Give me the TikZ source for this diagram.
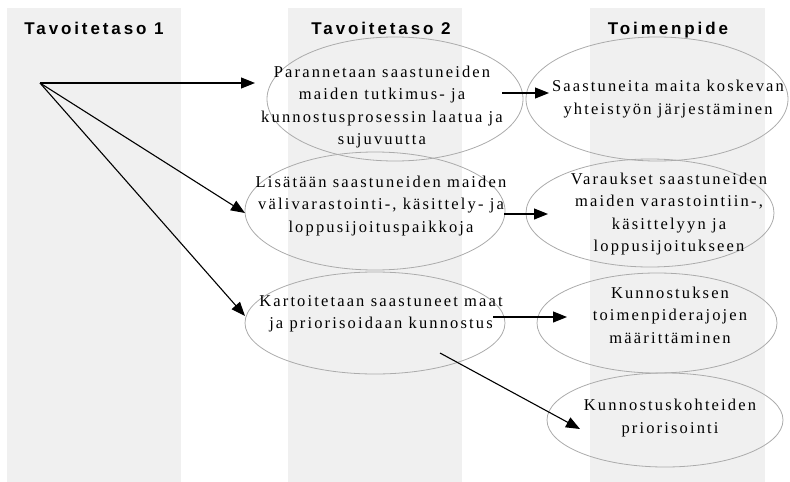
\documentclass[tikz,border=0pt]{standalone}
\usepackage{fontspec}
\setmainfont{Liberation Serif}[LetterSpace=13]
\newfontfamily\headfont{Liberation Sans}[LetterSpace=17]
\usetikzlibrary{arrows.meta,shapes.geometric}
\definecolor{bandgray}{HTML}{F0F0F0}
\definecolor{rimgray}{HTML}{ABABAB}
\begin{document}
\begin{tikzpicture}[x=1pt,y=-1pt,
  band/.style={fill=bandgray,draw=none},
  head/.style={font=\headfont\bfseries\fontsize{17}{20}\selectfont,anchor=base,inner sep=0pt},
  goal/.style={ellipse,draw=rimgray,line width=0.8pt,inner sep=0pt},
  txt/.style={align=center,inner sep=0pt,font=\fontsize{16.5}{22.5}\selectfont},
  arr/.style={-{Triangle[length=14pt,width=11pt]},line width=1.1pt}]
\useasboundingbox (0,0) rectangle (790,482);
% column backgrounds
\fill[band] (7,8) rectangle (181,482);
\fill[band] (288,8) rectangle (462,482);
\fill[band] (590,8) rectangle (765,482);
% column headings
\node[head] (h1) at (94,34) {Tavoitetaso 1};
\node[head] (h2) at (381,34) {Tavoitetaso 2};
\node[head] (h3) at (668,34) {Toimenpide};
% outlines
\node[goal,minimum width=256pt,minimum height=124pt] (e1) at (395,99) {};
\node[goal,minimum width=260pt,minimum height=118pt] (e2) at (375,211) {};
\node[goal,minimum width=260pt,minimum height=102pt] (e3) at (375,323) {};
\node[goal,minimum width=262pt,minimum height=124pt] (e4) at (657,99) {};
\node[goal,minimum width=248pt,minimum height=108pt] (e5) at (650,213) {};
\node[goal,minimum width=240pt,minimum height=100pt] (e6) at (657,323) {};
\node[goal,minimum width=236pt,minimum height=94pt] (e7) at (665,420) {};
% texts
\node[txt] (t1) at (382,107) {Parannetaan saastuneiden\\maiden tutkimus- ja\\kunnostusprosessin laatua ja\\sujuvuutta};
\node[txt] (t2) at (381,206) {Lisätään saastuneiden maiden\\välivarastointi-, käsittely- ja\\loppusijoituspaikkoja};
\node[txt] (t3) at (381,314) {Kartoitetaan saastuneet maat\\ja priorisoidaan kunnostus};
\node[txt] (t4) at (668,99) {Saastuneita maita koskevan\\yhteistyön järjestäminen};
\node[txt] (t5) at (669,214) {Varaukset saastuneiden\\maiden varastointiin-,\\käsittelyyn ja\\loppusijoitukseen};
\node[txt] (t6) at (670,315) {Kunnostuksen\\toimenpiderajojen\\määrittäminen};
\node[txt] (t7) at (670,418) {Kunnostuskohteiden\\priorisointi};
% connector end points
\coordinate (src) at (40,83);
\coordinate (a1) at (255,83);
\coordinate (a2) at (245,213);
\coordinate (a3) at (245,316);
\coordinate (b1s) at (502,93);
\coordinate (b1) at (549,93);
\coordinate (b2s) at (504,214);
\coordinate (b2) at (548,214);
\coordinate (b3s) at (493,317);
\coordinate (b3) at (567,317);
\coordinate (b4s) at (440,353);
\coordinate (b4) at (580,429);
% connectors
\draw[arr] (src) -- (a1);
\draw[arr] (src) -- (a2);
\draw[arr] (src) -- (a3);
\draw[arr] (b1s) -- (b1);
\draw[arr] (b2s) -- (b2);
\draw[arr] (b3s) -- (b3);
\draw[arr] (b4s) -- (b4);
\end{tikzpicture}
\end{document}
